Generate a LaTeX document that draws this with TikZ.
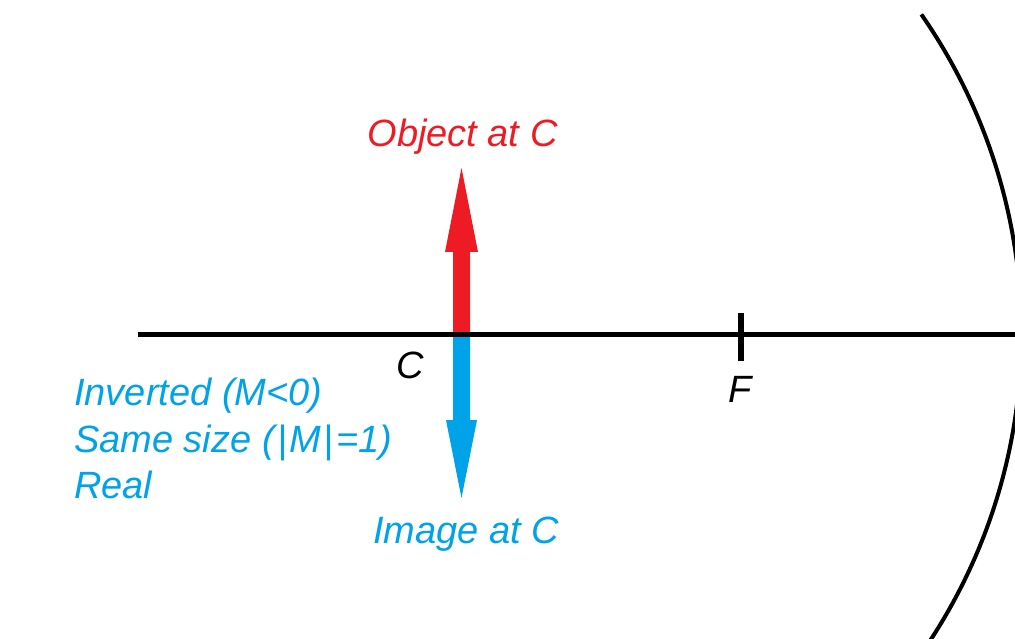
\documentclass[tikz,border=0pt]{standalone}
\usepackage{fontspec}
\setmainfont{Liberation Sans}
\definecolor{mred}{HTML}{ED1C24}
\definecolor{mblue}{HTML}{00A2E8}
\tikzset{
  lbl/.style={font=\fontsize{38}{46}\selectfont\itshape, inner sep=0pt},
  axisline/.style={line width=5pt},
}
\begin{document}
\begin{tikzpicture}[x=1pt,y=-1pt]
\useasboundingbox (0,0) rectangle (1015,639);
\clip (0,0) rectangle (1015,639);
\coordinate (C) at (461.5,334);
\coordinate (objtip) at (461.5,168);
\coordinate (imgtip) at (461.5,498);
\coordinate (axL) at (138,334);
\coordinate (axR) at (1020,334);
\coordinate (F) at (741,334);
% arrows
\fill[mred] ([xshift=-8.5pt]C) -- ([xshift=-8.5pt,yshift=-84pt]objtip) -- ([xshift=-16.5pt,yshift=-84pt]objtip)
  -- (objtip) -- ([xshift=16.5pt,yshift=-84pt]objtip) -- ([xshift=8.5pt,yshift=-84pt]objtip) -- ([xshift=8.5pt]C) -- cycle;
\fill[mblue] ([xshift=-8.5pt]C) -- ([xshift=-8.5pt,yshift=78pt]imgtip) -- ([xshift=-15.5pt,yshift=78pt]imgtip)
  -- (imgtip) -- ([xshift=15.5pt,yshift=78pt]imgtip) -- ([xshift=8.5pt,yshift=78pt]imgtip) -- ([xshift=8.5pt]C) -- cycle;
% axis
\draw[axisline] (axL) -- (axR);
\draw[line width=5.5pt] ([yshift=21pt]F) -- ([yshift=-27pt]F);
% mirror
\draw[line width=4pt] (C) ++(-34.8:560) arc[start angle=-34.8, end angle=42, radius=560];
% labels
\node[lbl, text=mred, anchor=base] (objlbl) at (462.5,147) {Object at C};
\node[lbl, text=mblue, anchor=base] (imglbl) at (466,543) {Image at C};
\node[lbl, anchor=base] (clbl) at (410,378) {C};
\node[lbl, anchor=base] (flbl) at (740,402) {F};
\node[lbl, text=mblue, anchor=base west] (l1) at (74,405) {Inverted (M<0)};
\node[lbl, text=mblue, anchor=base west] (l2) at (74,452) {Same size (\kern3pt|\kern2ptM\kern2pt|\kern3pt=1)};
\node[lbl, text=mblue, anchor=base west] (l3) at (74,498) {Real};
\end{tikzpicture}
\end{document}
